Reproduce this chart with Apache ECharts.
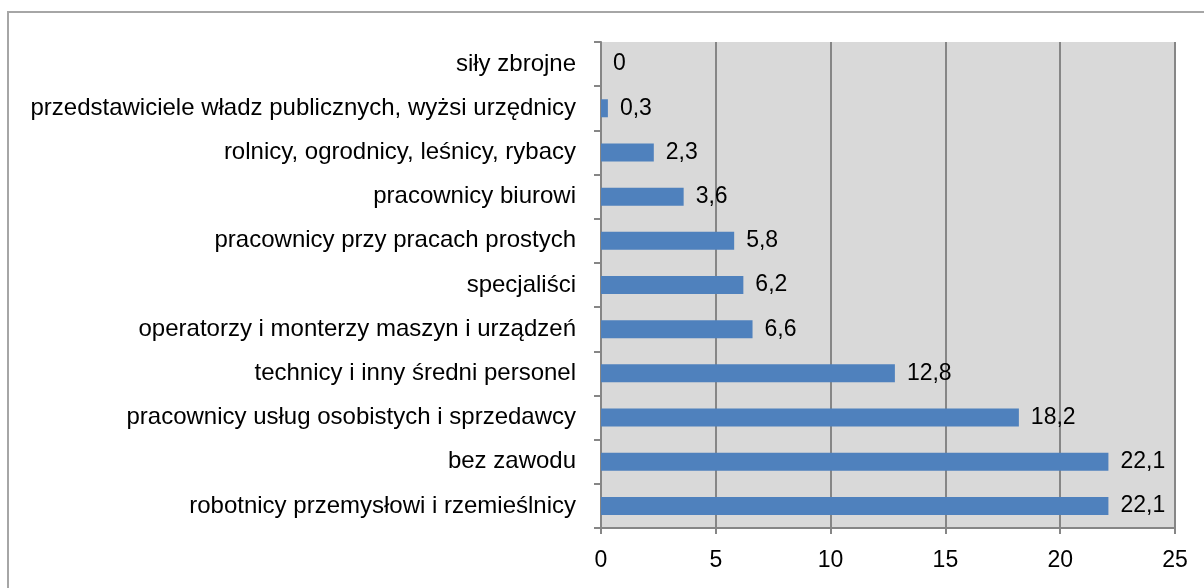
<!DOCTYPE html>
<html style="height: 100%">
<head>
    <meta charset="utf-8">
    <title>zawody</title>
</head>
<body style="height: 100%; margin: 0; background: #fff">
<div id="container" style="width: 1204px; height: 588px"></div>
<script src="https://cdn.jsdelivr.net/npm/echarts@6/dist/echarts.min.js"></script>
<script type="text/javascript">
    // od dołu do góry, jak na osi
    var categories = [
        'robotnicy przemysłowi i rzemieślnicy',
        'bez zawodu',
        'pracownicy usług osobistych i sprzedawcy',
        'technicy i inny średni personel',
        'operatorzy i monterzy maszyn i urządzeń',
        'specjaliści',
        'pracownicy przy pracach prostych',
        'pracownicy biurowi',
        'rolnicy, ogrodnicy, leśnicy, rybacy',
        'przedstawiciele władz publicznych, wyżsi urzędnicy',
        'siły zbrojne'
    ];
    var values = [22.1, 22.1, 18.2, 12.8, 6.6, 6.2, 5.8, 3.6, 2.3, 0.3, 0];
    var xTicks = [0, 5, 10, 15, 20, 25];

    var font = '"Liberation Sans Narrow", "Arial Narrow", "Liberation Sans", sans-serif';
    var myChart = echarts.init(document.getElementById('container'));
    var option = {
        backgroundColor: '#fff',
        animation: false,
        graphic: [{
            type: 'rect',
            shape: { x: 8, y: 12, width: 1400, height: 800 },
            style: { fill: 'none', stroke: '#a6a6a6', lineWidth: 2 },
            silent: true
        }],
        grid: {
            left: 601, top: 42, right: 29, bottom: 60,
            show: true,
            backgroundColor: '#d9d9d9',
            borderWidth: 0
        },
        xAxis: {
            type: 'value',
            min: xTicks[0],
            max: xTicks[xTicks.length - 1],
            interval: 5,
            axisLine: { show: true, lineStyle: { color: '#868686', width: 2 } },
            axisTick: { show: true, length: 6, lineStyle: { color: '#868686', width: 2 } },
            axisLabel: { color: '#000', fontFamily: font, fontSize: 23, margin: 21 },
            splitLine: { show: true, lineStyle: { color: '#868686', width: 2 } }
        },
        yAxis: {
            type: 'category',
            data: categories,
            axisLine: { show: true, lineStyle: { color: '#868686', width: 2 } },
            axisTick: { show: true, length: 7, alignWithLabel: false, lineStyle: { color: '#868686', width: 2 } },
            axisLabel: { color: '#000', fontFamily: font, fontSize: 24, margin: 25 }
        },
        series: [{
            type: 'bar',
            data: values,
            barWidth: 18,
            itemStyle: { color: '#4f81bd' },
            label: {
                show: true,
                position: 'right',
                distance: 12,
                color: '#000',
                fontFamily: font,
                fontSize: 23,
                formatter: function (p) { return String(p.value).replace('.', ','); }
            }
        }]
    };
    myChart.setOption(option);
</script>
</body>
</html>
